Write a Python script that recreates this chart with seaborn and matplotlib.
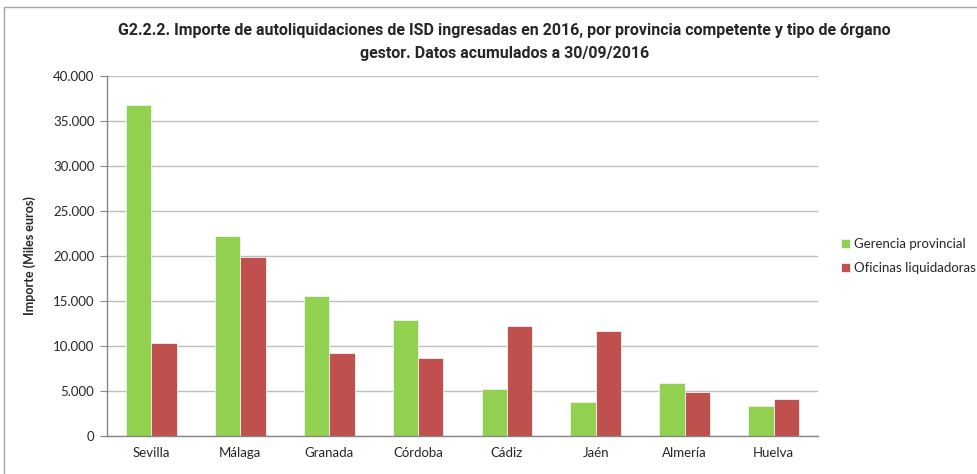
import pandas as pd
import seaborn as sns
import matplotlib.pyplot as plt
from matplotlib.lines import Line2D
from matplotlib.ticker import FuncFormatter, FixedLocator

# Data (miles de euros)
provincias = ['Sevilla', 'Málaga', 'Granada', 'Córdoba', 'Cádiz', 'Jaén', 'Almería', 'Huelva']
gerencia = [36800, 22270, 15600, 12900, 5230, 3750, 5900, 3380]
oficinas = [10300, 19900, 9170, 8680, 12250, 11650, 4860, 4080]
series = ['Gerencia provincial', 'Oficinas liquidadoras']
colores = ['#92D050', '#C0504D']

df = pd.DataFrame({
    'Provincia': provincias * 2,
    'Importe': gerencia + oficinas,
    'Tipo': [series[0]] * len(provincias) + [series[1]] * len(provincias),
})

sns.set_style('white')
plt.rcParams['font.family'] = ['Lato', 'DejaVu Sans']

fig = plt.figure(figsize=(9.78, 4.74), dpi=100)
ax = fig.add_axes([107 / 978, 1 - 436 / 474, 711 / 978, 360 / 474])

sns.barplot(data=df, x='Provincia', y='Importe', hue='Tipo', palette=colores,
            saturation=1, width=0.57, gap=0, ax=ax, edgecolor='#f2f2f2',
            linewidth=0.6, legend=True)

ax.set_ylim(0, 40000)
ax.set_xlim(-0.5, len(provincias) - 0.5)
ax.set_yticks(range(0, 40001, 5000))
ax.yaxis.set_major_formatter(FuncFormatter(lambda v, p: f'{int(v):,}'.replace(',', '.')))
ax.grid(axis='y', color='#BFBFBF', linewidth=1)
ax.set_axisbelow(True)

for s in ['top', 'right']:
    ax.spines[s].set_visible(False)
for s in ['left', 'bottom']:
    ax.spines[s].set_color('#868686')
    ax.spines[s].set_linewidth(1)

ax.tick_params(axis='x', which='major', length=0, labelsize=9.5, pad=8)
ax.xaxis.set_minor_locator(FixedLocator([i - 0.5 for i in range(len(provincias) + 1)]))
ax.tick_params(axis='x', which='minor', length=5, color='#868686', direction='out')
ax.tick_params(axis='y', length=5, color='#868686', labelsize=9.5, left=True, pad=4)

ax.set_xlabel('')
ax.set_ylabel('Importe (Miles euros)', fontsize=9, fontweight='bold', labelpad=12)

leg = ax.legend(loc='center left', bbox_to_anchor=(1.015, 0.5), frameon=False,
                fontsize=9.5, handlelength=0.7, handleheight=0.7, handletextpad=0.3,
                labelspacing=0.9)

title_font = ['Roboto', 'DejaVu Sans']
fig.text(0.516, 0.935, 'G2.2.2. Importe de autoliquidaciones de ISD ingresadas en 2016, por provincia competente y tipo de órgano',
         ha='center', va='center', fontsize=11.5, fontweight='bold', family=title_font)
fig.text(0.516, 0.888, 'gestor. Datos acumulados a 30/09/2016',
         ha='center', va='center', fontsize=11.5, fontweight='bold', family=title_font)

# chart frame
fig.add_artist(Line2D([4 / 978, 4 / 978], [0, 1 - 7 / 474], transform=fig.transFigure, color='#A6A6A6', lw=1))
fig.add_artist(Line2D([4 / 978, 1], [1 - 7 / 474, 1 - 7 / 474], transform=fig.transFigure, color='#A6A6A6', lw=1))

fig.savefig('out.png', dpi=100)
